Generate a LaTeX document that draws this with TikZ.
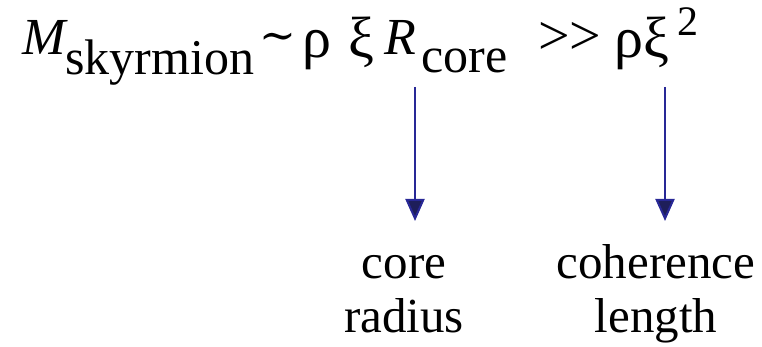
\documentclass[tikz,border=0pt]{standalone}
\usepackage{fontspec}
\setmainfont{Liberation Serif}
\newfontfamily\opfont{DejaVu Serif}
\usetikzlibrary{arrows.meta}
\definecolor{arrowblue}{RGB}{40,40,150}
\definecolor{arrowdark}{RGB}{30,30,90}

\begin{document}
\begin{tikzpicture}[
  x=1pt,y=-1pt,
  big/.style={inner sep=0pt,anchor=base west,font=\fontsize{52}{56}\selectfont},
  lowered/.style={big,font=\fontsize{50}{54}\selectfont},
  greek/.style={big,font=\fontsize{58}{62}\selectfont},
  raised/.style={inner sep=0pt,anchor=base west,font=\fontsize{42}{46}\selectfont},
  caption/.style={inner sep=0pt,anchor=base,align=center,font=\fontsize{49}{54}\selectfont},
  pointer/.style={draw=arrowblue,line width=2pt,-{Triangle[length=22pt,width=19pt,fill=arrowdark]}}
]
\useasboundingbox (0,0) rectangle (762,347);
% the estimate
\node[big] (mass) at (22,55) {\itshape M};
\node[lowered] (masssub) at (65,75) {skyrmion};
\node[big,font=\opfont\fontsize{44}{48}\selectfont] (sim) at (259,51) {∼};
\node[greek] (rho) at (302,58) {ρ};
\node[greek] (xi) at (348,58) {ξ};
\node[big] (rad) at (384,55) {\itshape R};
\node[lowered] (radsub) at (421,73) {core};
\node[big,font=\fontsize{56}{60}\selectfont] (gg) at (538,55) {>{}>};
\node[greek] (rhoxisq) at (614,58) {ρξ};
\node[raised] (sq) at (677,36) {2};
% what the two lengths are
\node[caption] (corelbl) at (404,332) {core\\radius};
\node[caption] (cohlbl) at (656,332) {coherence\\length};
\coordinate (tail1) at (415,87);
\coordinate (tip1) at (415,221);
\coordinate (tail2) at (665,87);
\coordinate (tip2) at (665,221);
\draw[pointer] (tail1) -- (tip1);
\draw[pointer] (tail2) -- (tip2);
\end{tikzpicture}
\end{document}
